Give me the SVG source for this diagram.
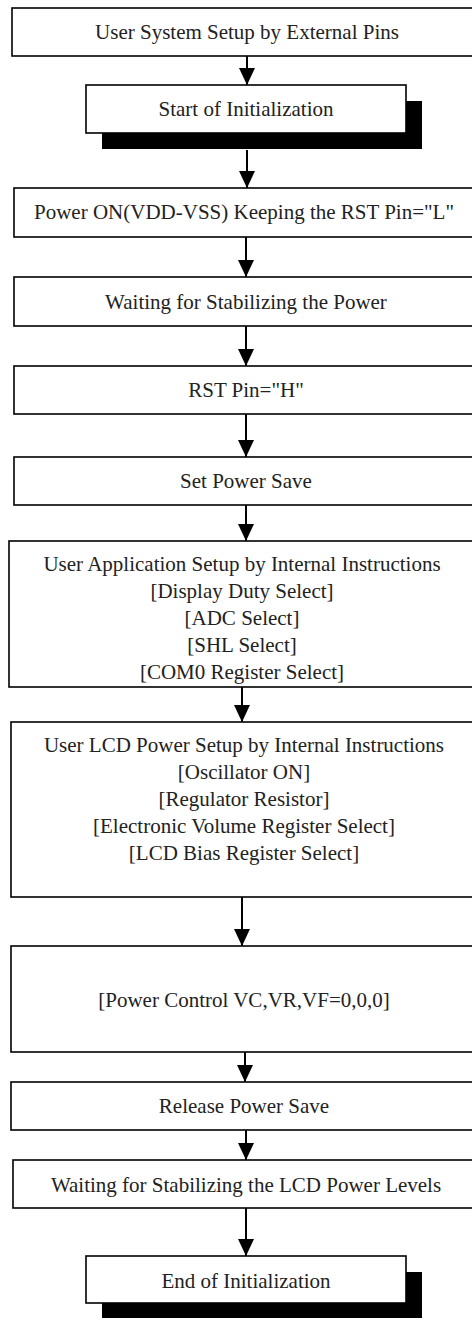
<svg xmlns="http://www.w3.org/2000/svg" width="472" height="1318" viewBox="0 0 472 1318">
<style>
.box{fill:#fff;stroke:#000;stroke-width:1.6}
.shadow{fill:#000;stroke:none}
.t{font-family:"Liberation Serif","Times New Roman",serif;font-size:21px;fill:#222;text-anchor:middle}
.c{stroke:#000;stroke-width:2;fill:none;marker-end:url(#ah)}
</style>
<defs>
<marker id="ah" markerUnits="userSpaceOnUse" markerWidth="17" markerHeight="16" refX="17" refY="8" orient="auto" viewBox="0 0 17 16">
<path d="M0,0 L17,8 L0,16 z" fill="#000"/>
</marker>
</defs>
<rect width="472" height="1318" fill="#fff"/>
<g id="connectors">
<line class="c" x1="247" y1="56" x2="247" y2="85"/>
<line class="c" x1="247" y1="150" x2="247" y2="188"/>
<line class="c" x1="246" y1="237" x2="246" y2="277"/>
<line class="c" x1="246" y1="326" x2="246" y2="366"/>
<line class="c" x1="246" y1="414" x2="246" y2="457"/>
<line class="c" x1="246" y1="505" x2="246" y2="541"/>
<line class="c" x1="242" y1="687" x2="242" y2="722"/>
<line class="c" x1="242" y1="897" x2="242" y2="946"/>
<line class="c" x1="245" y1="1052" x2="245" y2="1082"/>
<line class="c" x1="246" y1="1130" x2="246" y2="1160"/>
<line class="c" x1="246" y1="1208" x2="246" y2="1256"/>
</g>
<g id="n1">
<rect class="box" x="12" y="8" width="472" height="48"/>
<text class="t" x="247" y="39">User System Setup by External Pins</text>
</g>
<g id="n2">
<rect class="shadow" x="102" y="101" width="320" height="48"/>
<rect class="box" x="86" y="85" width="320" height="48"/>
<text class="t" x="246" y="116">Start of Initialization</text>
</g>
<g id="n3">
<rect class="box" x="14" y="188" width="470" height="49"/>
<text class="t" x="244" y="219">Power ON(VDD-VSS) Keeping the RST Pin="L"</text>
</g>
<g id="n4">
<rect class="box" x="14" y="277" width="470" height="49"/>
<text class="t" x="246" y="309">Waiting for Stabilizing the Power</text>
</g>
<g id="n5">
<rect class="box" x="14" y="366" width="470" height="48"/>
<text class="t" x="246" y="397">RST Pin="H"</text>
</g>
<g id="n6">
<rect class="box" x="14" y="457" width="470" height="48"/>
<text class="t" x="246" y="488">Set Power Save</text>
</g>
<g id="n7">
<rect class="box" x="9" y="541" width="475" height="146"/>
<text class="t" x="242" y="571">User Application Setup by Internal Instructions</text>
<text class="t" x="242" y="598">[Display Duty Select]</text>
<text class="t" x="242" y="625">[ADC Select]</text>
<text class="t" x="242" y="652">[SHL Select]</text>
<text class="t" x="242" y="679">[COM0 Register Select]</text>
</g>
<g id="n8">
<rect class="box" x="11" y="722" width="473" height="175"/>
<text class="t" x="244" y="752">User LCD Power Setup by Internal Instructions</text>
<text class="t" x="244" y="779">[Oscillator ON]</text>
<text class="t" x="244" y="806">[Regulator Resistor]</text>
<text class="t" x="244" y="833">[Electronic Volume Register Select]</text>
<text class="t" x="244" y="860">[LCD Bias Register Select]</text>
</g>
<g id="n9">
<rect class="box" x="11" y="946" width="473" height="106"/>
<text class="t" x="244" y="1007">[Power Control VC,VR,VF=0,0,0]</text>
</g>
<g id="n10">
<rect class="box" x="11" y="1082" width="473" height="48"/>
<text class="t" x="244" y="1113">Release Power Save</text>
</g>
<g id="n11">
<rect class="box" x="13" y="1160" width="471" height="48"/>
<text class="t" x="246" y="1192">Waiting for Stabilizing the LCD Power Levels</text>
</g>
<g id="n12">
<rect class="shadow" x="102" y="1272" width="320" height="50"/>
<rect class="box" x="86" y="1256" width="320" height="47"/>
<text class="t" x="246" y="1288">End of Initialization</text>
</g>
</svg>
